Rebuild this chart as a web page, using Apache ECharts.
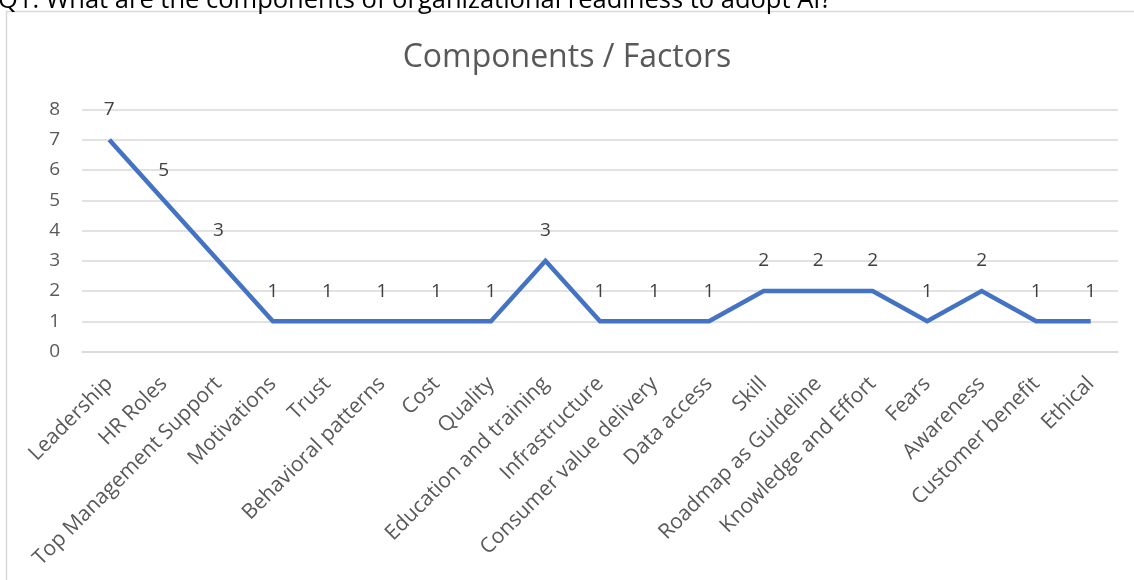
<!DOCTYPE html>
<html lang="en">

<head>
    <meta charset="UTF-8">
    <title>Components / Factors</title>
    <script src="https://cdn.jsdelivr.net/npm/echarts@6/dist/echarts.min.js"></script>
    <style>
        html, body { margin: 0; padding: 0; background: #fff; }
    </style>
</head>

<body>
    <div id="main" style="width: 1134px;height:580px;"></div>
    <script type="text/javascript">
        var categories = ['Leadership', 'HR Roles', 'Top Management Support', 'Motivations', 'Trust',
            'Behavioral patterns', 'Cost', 'Quality', 'Education and training', 'Infrastructure',
            'Consumer value delivery', 'Data access', 'Skill', 'Roadmap as Guideline',
            'Knowledge and Effort', 'Fears', 'Awareness', 'Customer benefit', 'Ethical']
        var counts = [7, 5, 3, 1, 1, 1, 1, 1, 3, 1, 1, 1, 2, 2, 2, 1, 2, 1, 1]
        var yTicks = [0, 1, 2, 3, 4, 5, 6, 7, 8]

        var font = 'Open Sans'
        var myChart = echarts.init(document.getElementById('main'));

        var option = {
            animation: false,
            textStyle: { fontFamily: font },
            title: {
                text: 'Components / Factors',
                left: 'center',
                top: 37,
                textStyle: { fontSize: 32, fontWeight: 'normal', color: '#595959', fontFamily: font }
            },
            graphic: [
                {
                    type: 'rect',
                    shape: { x: 6.5, y: 11.5, width: 1140, height: 600 },
                    style: { fill: 'none', stroke: '#D9D9D9', lineWidth: 1.5 },
                    z: -1
                },
                {
                    type: 'text',
                    left: -2,
                    top: -12,
                    style: {
                        text: 'Q1: What are the components of organizational readiness to adopt AI?',
                        fontSize: 25.5, fill: '#000', fontFamily: font
                    }
                }
            ],
            grid: { left: 82, right: 16, top: 109.5, bottom: 228.5 },
            xAxis: {
                type: 'category',
                data: categories,
                boundaryGap: true,
                axisLine: { show: true, lineStyle: { color: '#D9D9D9', width: 1.5 } },
                axisTick: { show: false },
                axisLabel: {
                    rotate: 45, interval: 0, margin: 29,
                    fontSize: 21, color: '#595959', fontFamily: font
                }
            },
            yAxis: {
                type: 'value',
                min: yTicks[0],
                max: yTicks[yTicks.length - 1],
                interval: 1,
                axisLine: { show: false },
                axisTick: { show: false },
                splitLine: { lineStyle: { color: '#D9D9D9', width: 1.5 } },
                axisLabel: { fontSize: 19, color: '#595959', margin: 22, fontFamily: font }
            },
            series: [{
                type: 'line',
                data: counts,
                symbol: 'circle',
                symbolSize: 1,
                showSymbol: true,
                itemStyle: { color: 'rgba(68,114,196,0)' },
                lineStyle: { color: '#4472C4', width: 4.5, join: 'miter' },
                label: {
                    show: true, position: 'top', distance: 20,
                    fontSize: 19, color: '#404040', fontFamily: font
                },
                labelLayout: { hideOverlap: false }
            }]
        };

        myChart.setOption(option);
    </script>
</body>

</html>
